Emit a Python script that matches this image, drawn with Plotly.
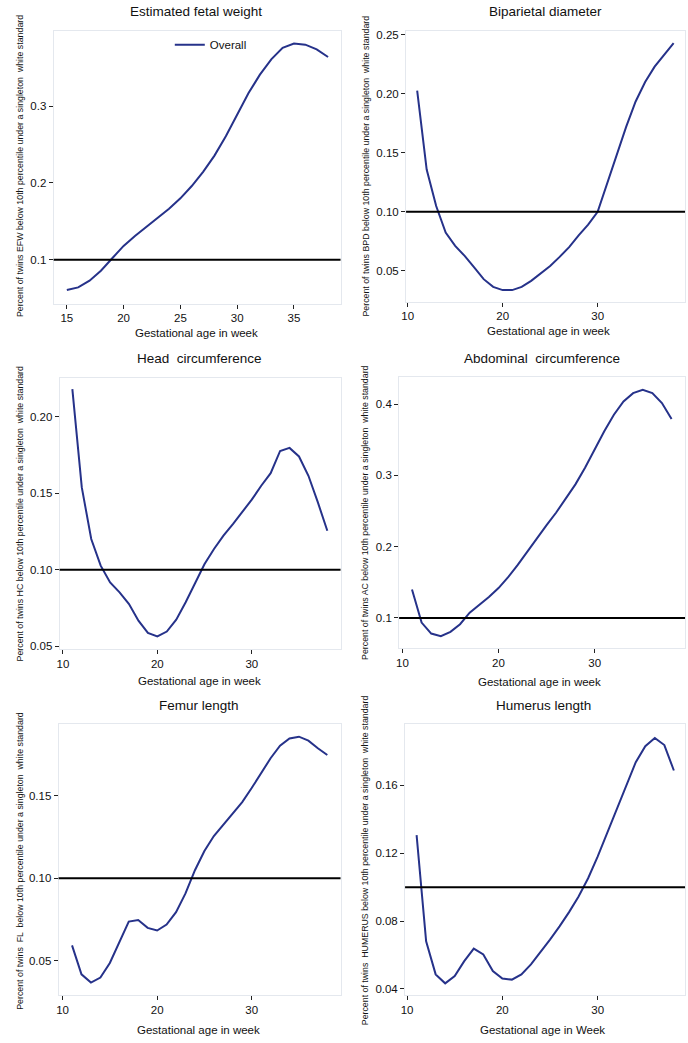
import plotly.graph_objects as go

# ---------------- data ----------------
weeks_efw = list(range(15, 39))
efw = [0.0607, 0.064, 0.0728, 0.0857, 0.102, 0.118, 0.131, 0.143, 0.154, 0.1665,
       0.180, 0.196, 0.2145, 0.2356, 0.2607, 0.289, 0.317, 0.341, 0.361, 0.376,
       0.3816, 0.380, 0.374, 0.364]

weeks = list(range(11, 39))
bpd = [0.2028, 0.1358, 0.1048, 0.0823, 0.071, 0.0625, 0.0527, 0.0428, 0.0363, 0.0335,
       0.0335, 0.0363, 0.0414, 0.0476, 0.054, 0.0617, 0.070, 0.080, 0.089, 0.100,
       0.1245, 0.148, 0.172, 0.1935, 0.210, 0.223, 0.233, 0.243]
hc = [0.2178, 0.1537, 0.120, 0.1026, 0.0917, 0.0852, 0.0776, 0.0667, 0.0587, 0.0565,
      0.0596, 0.0674, 0.0787, 0.0907, 0.1037, 0.1135, 0.1222, 0.1298, 0.1374, 0.1457,
      0.1548, 0.163, 0.1775, 0.1795, 0.1739, 0.1613, 0.1439, 0.1254]
ac = [0.140, 0.0935, 0.0781, 0.0744, 0.0805, 0.0912, 0.1074, 0.1186, 0.1293, 0.1419,
      0.1572, 0.1744, 0.1935, 0.2121, 0.2302, 0.2479, 0.2674, 0.2874, 0.3107, 0.3363,
      0.3619, 0.3851, 0.4037, 0.4153, 0.420, 0.4153, 0.4014, 0.3791]
fl = [0.0592, 0.0416, 0.0366, 0.0396, 0.0485, 0.0612, 0.0736, 0.0746, 0.0698, 0.0682,
      0.0718, 0.0793, 0.0907, 0.1048, 0.1165, 0.1256, 0.1326, 0.139, 0.1462, 0.1547,
      0.1637, 0.1728, 0.1804, 0.1848, 0.1859, 0.1835, 0.1789, 0.1748]
hl = [0.1307, 0.0681, 0.0486, 0.0433, 0.0476, 0.0564, 0.0638, 0.0603, 0.0506, 0.0461,
      0.0455, 0.0486, 0.0545, 0.0617, 0.0691, 0.0769, 0.0853, 0.0945, 0.1053, 0.118,
      0.1317, 0.1459, 0.160, 0.1737, 0.1831, 0.188, 0.1838, 0.1688]

reference_value = 0.1

titles = ["Estimated fetal weight", "Biparietal diameter", "Head  circumference",
          "Abdominal  circumference", "Femur length", "Humerus length"]
ytitles = [
    "Percent of twins EFW below 10th percentile under a singleton  white standard",
    "Percent of twins BPD below 10th percentile under a singleton  white standard",
    "Percent of twins HC below 10th percentile under a singleton  white standard",
    "Percent of twins AC below 10th percentile under a singleton  white standard",
    "Percent of twins  FL  below 10th percentile under a singleton  white standard",
    "Percent of twins  HUMERUS below 10th percentile under a singleton  white standard",
]
xtitles = ["Gestational age in week"] * 5 + ["Gestational age in Week"]

yticks = [[0.1, 0.2, 0.3], [0.05, 0.10, 0.15, 0.20, 0.25], [0.05, 0.10, 0.15, 0.20],
          [0.1, 0.2, 0.3, 0.4], [0.05, 0.10, 0.15], [0.04, 0.08, 0.12, 0.16]]
yticktext = [["0.1", "0.2", "0.3"], ["0.05", "0.10", "0.15", "0.20", "0.25"],
             ["0.05", "0.10", "0.15", "0.20"], ["0.1", "0.2", "0.3", "0.4"],
             ["0.05", "0.10", "0.15"], ["0.04", "0.08", "0.12", "0.16"]]
xticks = [[15, 20, 25, 30, 35]] + [[10, 20, 30]] * 5

series = [(weeks_efw, efw), (weeks, bpd), (weeks, hc), (weeks, ac), (weeks, fl), (weeks, hl)]

# ---------------- layout geometry (pixels) ----------------
W, H = 688, 1043
boxes = [(49, 338, 29, 303), (404, 685, 29, 301), (55, 338, 378, 650),
         (397, 685, 377, 649), (54, 338, 725, 998), (403, 685, 725, 998)]
xranges = [[13.84, 39.1], [9.83, 39.2], [9.65, 39.4], [9.66, 39.4], [9.58, 39.4], [9.79, 39.17]]
yranges = [[0.043, 0.398], [0.0238, 0.2534], [0.0483, 0.225], [0.058, 0.4377],
           [0.0289, 0.1939], [0.0363, 0.1965]]
title_pos = [(192, 10), (544, 10), (196, 358), (541, 358), (195, 707), (542, 707)]
xtitle_pos = [(193, 333), (547, 331), (196, 682), (538, 683), (195, 1033), (541, 1033)]
ytitle_pos = [(15, 165), (364, 165), (15, 514), (362, 513), (15, 863), (362, 862)]

LINE = "#26328a"
FONT = "Liberation Sans, Arial, Helvetica, sans-serif"

fig = go.Figure()
layout = dict(width=W, height=H, margin=dict(l=0, r=0, t=0, b=0),
              paper_bgcolor="white", plot_bgcolor="white", showlegend=True,
              font=dict(family=FONT, color="#111"))
annotations = []
shapes = []

for i in range(6):
    k = "" if i == 0 else str(i + 1)
    xl, xr, yt, yb = boxes[i]
    xs, ys = series[i]
    fig.add_trace(go.Scatter(x=xs, y=ys, mode="lines", name="Overall",
                             line=dict(color=LINE, width=2),
                             xaxis="x" + k, yaxis="y" + k, showlegend=(i == 0)))
    common = dict(showgrid=False, zeroline=False, showline=True, mirror=True,
                  linecolor="#e4e8ee", linewidth=1, ticks="outside", ticklen=4,
                  tickwidth=1, tickcolor="#222", tickfont=dict(size=11.5, family=FONT, color="#111"))
    layout["xaxis" + k] = dict(common, domain=[xl / W, xr / W], range=xranges[i],
                               tickvals=xticks[i], anchor="y" + k)
    layout["yaxis" + k] = dict(common, domain=[1 - yb / H, 1 - yt / H], range=yranges[i],
                               tickvals=yticks[i], ticktext=yticktext[i], anchor="x" + k)
    shapes.append(dict(type="line", xref="x" + k + " domain", yref="y" + k,
                       x0=0, x1=1, y0=reference_value, y1=reference_value,
                       line=dict(color="black", width=2)))
    tx, ty = title_pos[i]
    annotations.append(dict(text=titles[i], x=tx / W, y=1 - ty / H, xref="paper", yref="paper",
                            showarrow=False, font=dict(size=13.5, family=FONT, color="#111"),
                            xanchor="center", yanchor="middle"))
    tx, ty = xtitle_pos[i]
    annotations.append(dict(text=xtitles[i], x=tx / W, y=1 - ty / H, xref="paper", yref="paper",
                            showarrow=False, font=dict(size=11.5, family=FONT, color="#111"),
                            xanchor="center", yanchor="middle"))
    tx, ty = ytitle_pos[i]
    annotations.append(dict(text=ytitles[i], x=tx / W, y=1 - ty / H, xref="paper", yref="paper",
                            showarrow=False, textangle=-90,
                            font=dict(size=8.8, family=FONT, color="#111"),
                            xanchor="center", yanchor="middle"))

layout["annotations"] = annotations
layout["shapes"] = shapes
layout["legend"] = dict(x=166 / W, y=1 - 43 / H, xanchor="left", yanchor="middle",
                        bgcolor="rgba(0,0,0,0)", font=dict(size=11.5, family=FONT, color="#111"),
                        itemwidth=30, tracegroupgap=0)
fig.update_layout(**layout)
fig.write_html("out.html", config={"displayModeBar": False},
               post_script="document.body.style.margin='0';document.body.style.overflow='hidden';")
